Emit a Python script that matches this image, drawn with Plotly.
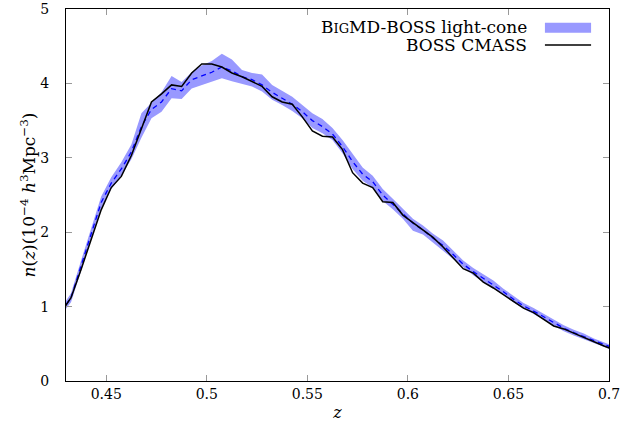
import plotly.graph_objects as go

# redshift bin centres
z = [0.4275, 0.4325, 0.4375, 0.4425, 0.4475, 0.4525, 0.4575, 0.4625, 0.4675, 0.4725,
     0.4775, 0.4825, 0.4875, 0.4925, 0.4975, 0.5025, 0.5075, 0.5125, 0.5175, 0.5225,
     0.5275, 0.5325, 0.5375, 0.5425, 0.5475, 0.5525, 0.5575, 0.5625, 0.5675, 0.5725,
     0.5775, 0.5825, 0.5875, 0.5925, 0.5975, 0.6025, 0.6075, 0.6125, 0.6175, 0.6225,
     0.6275, 0.6325, 0.6375, 0.6425, 0.6475, 0.6525, 0.6575, 0.6625, 0.6675, 0.6725,
     0.6775, 0.6825, 0.6875, 0.6925, 0.6975, 0.7025]

# BOSS CMASS n(z)
cmass = [0.92, 1.12, 1.50, 1.90, 2.30, 2.60, 2.75, 3.03, 3.40, 3.75,
         3.86, 3.98, 3.96, 4.14, 4.26, 4.26, 4.22, 4.14, 4.09, 4.03,
         3.96, 3.82, 3.75, 3.72, 3.55, 3.36, 3.29, 3.28, 3.11, 2.80,
         2.66, 2.60, 2.41, 2.40, 2.23, 2.13, 2.03, 1.93, 1.80, 1.66,
         1.51, 1.45, 1.33, 1.25, 1.16, 1.06, 0.98, 0.92, 0.83, 0.74,
         0.70, 0.64, 0.58, 0.53, 0.47, 0.42]

# BigMD-BOSS light-cone mean
mock_mean = [0.93, 1.12, 1.55, 1.97, 2.40, 2.66, 2.85, 3.08, 3.42, 3.65,
             3.75, 3.93, 3.90, 4.05, 4.10, 4.15, 4.22, 4.17, 4.09, 4.05,
             3.98, 3.88, 3.80, 3.72, 3.62, 3.50, 3.42, 3.32, 3.15, 2.95,
             2.78, 2.68, 2.50, 2.38, 2.25, 2.12, 2.03, 1.92, 1.82, 1.70,
             1.57, 1.47, 1.38, 1.30, 1.20, 1.10, 1.01, 0.94, 0.86, 0.78,
             0.71, 0.65, 0.60, 0.54, 0.49, 0.44]

mock_lo = [0.88, 1.06, 1.48, 1.89, 2.32, 2.58, 2.76, 2.98, 3.27, 3.53,
           3.62, 3.80, 3.79, 3.93, 3.98, 4.02, 4.07, 4.03, 3.99, 3.96,
           3.89, 3.78, 3.71, 3.63, 3.53, 3.40, 3.33, 3.24, 3.06, 2.85,
           2.69, 2.60, 2.42, 2.31, 2.18, 2.02, 1.97, 1.86, 1.75, 1.64,
           1.52, 1.42, 1.33, 1.25, 1.16, 1.06, 0.97, 0.90, 0.82, 0.74,
           0.67, 0.61, 0.56, 0.51, 0.46, 0.41]

mock_hi = [0.98, 1.18, 1.62, 2.05, 2.48, 2.74, 2.94, 3.18, 3.60, 3.74,
           3.88, 4.10, 4.02, 4.15, 4.24, 4.30, 4.40, 4.32, 4.18, 4.14,
           4.12, 3.98, 3.90, 3.82, 3.71, 3.60, 3.52, 3.40, 3.24, 3.05,
           2.87, 2.76, 2.58, 2.45, 2.32, 2.18, 2.09, 1.98, 1.89, 1.76,
           1.62, 1.52, 1.43, 1.35, 1.24, 1.14, 1.05, 0.98, 0.90, 0.82,
           0.75, 0.69, 0.64, 0.57, 0.52, 0.47]

x_ticks = [0.45, 0.5, 0.55, 0.6, 0.65, 0.7]
x_ticklabels = ["0.45", "0.5", "0.55", "0.6", "0.65", "0.7"]
y_ticks = [0, 1, 2, 3, 4, 5]

BAND = "rgb(153,153,255)"
FONT = "DejaVu Serif"

fig = go.Figure()
fig.add_trace(go.Scatter(x=z, y=mock_lo, mode="lines", line=dict(width=0),
                         showlegend=False, hoverinfo="skip"))
fig.add_trace(go.Scatter(x=z, y=mock_hi, mode="lines", line=dict(width=0),
                         fill="tonexty", fillcolor=BAND, showlegend=False))
fig.add_trace(go.Scatter(x=z, y=mock_mean, mode="lines",
                         line=dict(color="#0000ff", width=1.3, dash="5px,4px"),
                         showlegend=False))
fig.add_trace(go.Scatter(x=z, y=cmass, mode="lines",
                         line=dict(color="black", width=1.5), showlegend=False))

axis_common = dict(showgrid=False, zeroline=False, showline=True, linecolor="black",
                   linewidth=1, mirror="allticks", ticks="inside", ticklen=6,
                   tickcolor="#999999", tickwidth=1, automargin=False,
                   tickfont=dict(family=FONT, size=14, color="black"))

fig.update_xaxes(range=[0.43, 0.7], tickvals=x_ticks, ticktext=x_ticklabels,
                 ticklabeloverflow="allow",
                 title=dict(text="<i>z</i>", font=dict(family=FONT, size=16, color="black"),
                            standoff=6),
                 **axis_common)
fig.update_yaxes(range=[0, 5], tickvals=y_ticks, ticklabelstandoff=13,
                 ticklabeloverflow="allow",
                 title=dict(text="<i>n</i>(<i>z</i>)(10<sup>−4</sup> <i>h</i><sup>3</sup>Mpc<sup>−3</sup>)",
                            font=dict(family=FONT, size=17, color="black"), standoff=0),
                 **axis_common)

# legend drawn gnuplot-style (text right-aligned, key sample on the right)
fig.add_annotation(xref="paper", yref="paper", x=0.853, y=0.952, xanchor="right",
                   yanchor="middle", showarrow=False,
                   text='B<span style="font-size:13px">IG</span>MD-BOSS light-cone',
                   font=dict(family=FONT, size=17, color="black"))
fig.add_annotation(xref="paper", yref="paper", x=0.853, y=0.903, xanchor="right",
                   yanchor="middle", showarrow=False, text="BOSS CMASS",
                   font=dict(family=FONT, size=17, color="black"))
fig.add_shape(type="rect", xref="paper", yref="paper", x0=0.882, x1=0.967,
              y0=0.936, y1=0.963, fillcolor=BAND, line=dict(width=0))
fig.add_shape(type="line", xref="paper", yref="paper", x0=0.882, x1=0.967,
              y0=0.903, y1=0.903, line=dict(color="black", width=1.5))

fig.update_layout(width=621, height=431, margin=dict(l=66, r=12, t=9, b=50),
                  plot_bgcolor="white", paper_bgcolor="white",
                  font=dict(family=FONT, color="black"))

# remove the default 8px page margin so the figure sits at the window's corner
fig.write_html("out.html", config={"displayModeBar": False},
               post_script="document.body.style.margin='0';")
